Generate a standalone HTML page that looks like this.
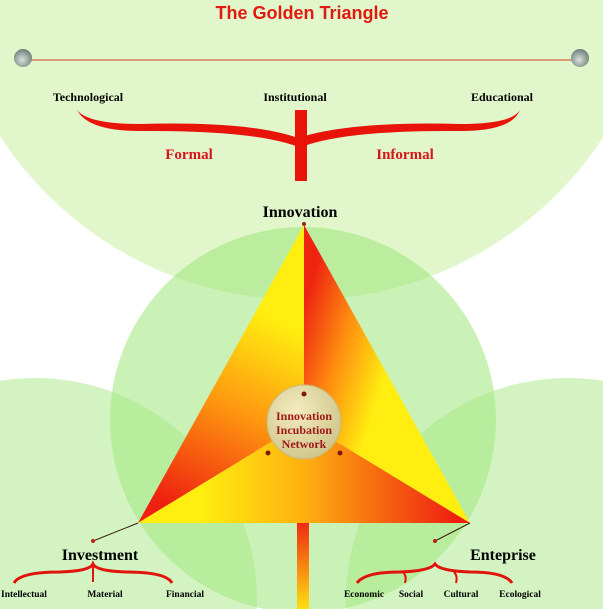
<!DOCTYPE html>
<html><head><meta charset="utf-8"><style>
html,body{margin:0;width:603px;height:609px;overflow:hidden;background:#fff}
svg{display:block;overflow:hidden}
text{font-family:"Liberation Serif",serif;font-weight:bold}
</style></head><body>
<svg width="603" height="609" viewBox="0 0 603 609">
<defs>
<linearGradient id="g1" gradientUnits="userSpaceOnUse" x1="255" y1="310" x2="160" y2="500"><stop offset="0" stop-color="#ffee10"/><stop offset="0.45" stop-color="#ff9a10"/><stop offset="1" stop-color="#ee2010"/></linearGradient>
<linearGradient id="g2" gradientUnits="userSpaceOnUse" x1="305" y1="300" x2="400" y2="330"><stop offset="0" stop-color="#ee2410"/><stop offset="0.5" stop-color="#ff9010"/><stop offset="1" stop-color="#ffee10"/></linearGradient>
<linearGradient id="g3" gradientUnits="userSpaceOnUse" x1="200" y1="0" x2="460" y2="0"><stop offset="0" stop-color="#ffee10"/><stop offset="0.4" stop-color="#ffb010"/><stop offset="1" stop-color="#ee1c10"/></linearGradient>
<linearGradient id="st" x1="0" y1="0" x2="0" y2="1"><stop offset="0" stop-color="#f02a10"/><stop offset="1" stop-color="#ffe010"/></linearGradient>
<radialGradient id="cc" cx="0.4" cy="0.35" r="0.7"><stop offset="0" stop-color="#f4ecc0"/><stop offset="1" stop-color="#cfc48a"/></radialGradient>
<radialGradient id="peg" cx="0.45" cy="0.6" r="0.6"><stop offset="0" stop-color="#d8e0dc"/><stop offset="1" stop-color="#6f8078"/></radialGradient>
</defs>
<circle cx="302" cy="-60" r="360" fill="#c8f0a0" opacity="0.55"/>
<circle cx="303" cy="420" r="193" fill="#9ee67a" opacity="0.55"/>
<circle cx="35" cy="600" r="222" fill="#a8ea85" opacity="0.5"/>
<circle cx="568" cy="600" r="222" fill="#a8ea85" opacity="0.5"/>
<text x="302" y="19" text-anchor="middle" font-size="18" fill="#e01a10" style="font-family:'Liberation Sans',sans-serif">The Golden Triangle</text>
<line x1="26" y1="60" x2="578" y2="60" stroke="#d04020" stroke-width="1"/>
<circle cx="23" cy="58" r="9" fill="url(#peg)"/><circle cx="580" cy="58" r="9" fill="url(#peg)"/>
<text x="88" y="101" text-anchor="middle" font-size="12">Technological</text>
<text x="295" y="101" text-anchor="middle" font-size="12">Institutional</text>
<text x="502" y="101" text-anchor="middle" font-size="12">Educational</text>
<path d="M77 110 Q88 124 140 124 Q250 121 298 138 Q350 121 460 124 Q512 124 520 110 Q512 131 460 131 Q350 130 304 146 L296 146 Q250 130 140 131 Q88 131 77 110Z" fill="#e8140a"/>
<rect x="295" y="110" width="12" height="71" fill="#e8140a"/>
<text x="189" y="159" text-anchor="middle" font-size="15" fill="#d8141a">Formal</text>
<text x="405" y="159" text-anchor="middle" font-size="15" fill="#d8141a">Informal</text>
<text x="300" y="217" text-anchor="middle" font-size="16">Innovation</text>
<line x1="304" y1="224" x2="304" y2="395" stroke="#3a1a10" stroke-width="1"/>
<circle cx="304" cy="224" r="2" fill="#a02010"/>
<polygon points="304,225 138,523 304,422" fill="url(#g1)"/>
<polygon points="304,225 470,523 304,422" fill="url(#g2)"/>
<polygon points="138,523 470,523 304,422" fill="url(#g3)"/>
<rect x="297" y="523" width="12" height="86" fill="url(#st)"/>
<line x1="138" y1="523" x2="93" y2="541" stroke="#3a1a10" stroke-width="1"/>
<line x1="470" y1="523" x2="435" y2="541" stroke="#3a1a10" stroke-width="1"/>
<circle cx="304" cy="422" r="37" fill="url(#cc)" stroke="#c8b870" stroke-width="1"/>
<circle cx="304" cy="394" r="2.5" fill="#801810"/><circle cx="268" cy="453" r="2.5" fill="#801810"/><circle cx="340" cy="453" r="2.5" fill="#801810"/>
<circle cx="93" cy="541" r="2" fill="#c02010"/><circle cx="435" cy="541" r="2" fill="#c02010"/>
<text x="304" y="420" text-anchor="middle" font-size="12" fill="#a01818">Innovation</text>
<text x="304" y="434" text-anchor="middle" font-size="12" fill="#a01818">Incubation</text>
<text x="304" y="448" text-anchor="middle" font-size="12" fill="#a01818">Network</text>
<text x="100" y="560" text-anchor="middle" font-size="16">Investment</text>
<text x="503" y="560" text-anchor="middle" font-size="16">Enteprise</text>
<path d="M14 583 Q20 572 60 572 Q90 571 93 564 Q96 571 126 572 Q166 572 172 583" fill="none" stroke="#e0140a" stroke-width="3"/>
<line x1="93" y1="565" x2="93" y2="582" stroke="#e0140a" stroke-width="2"/>
<path d="M357 583 Q365 572 400 572 Q430 571 435 564 Q440 571 470 572 Q505 572 512 583" fill="none" stroke="#e0140a" stroke-width="3"/>
<path d="M403 572 Q407 576 405 583 M454 572 Q458 576 456 583" fill="none" stroke="#e0140a" stroke-width="2"/>
<text x="24" y="597" text-anchor="middle" font-size="9.5">Intellectual</text>
<text x="105" y="597" text-anchor="middle" font-size="9.5">Material</text>
<text x="185" y="597" text-anchor="middle" font-size="9.5">Financial</text>
<text x="364" y="597" text-anchor="middle" font-size="9.5">Economic</text>
<text x="411" y="597" text-anchor="middle" font-size="9.5">Social</text>
<text x="461" y="597" text-anchor="middle" font-size="9.5">Cultural</text>
<text x="520" y="597" text-anchor="middle" font-size="9.5">Ecological</text>
</svg>
</body></html>
